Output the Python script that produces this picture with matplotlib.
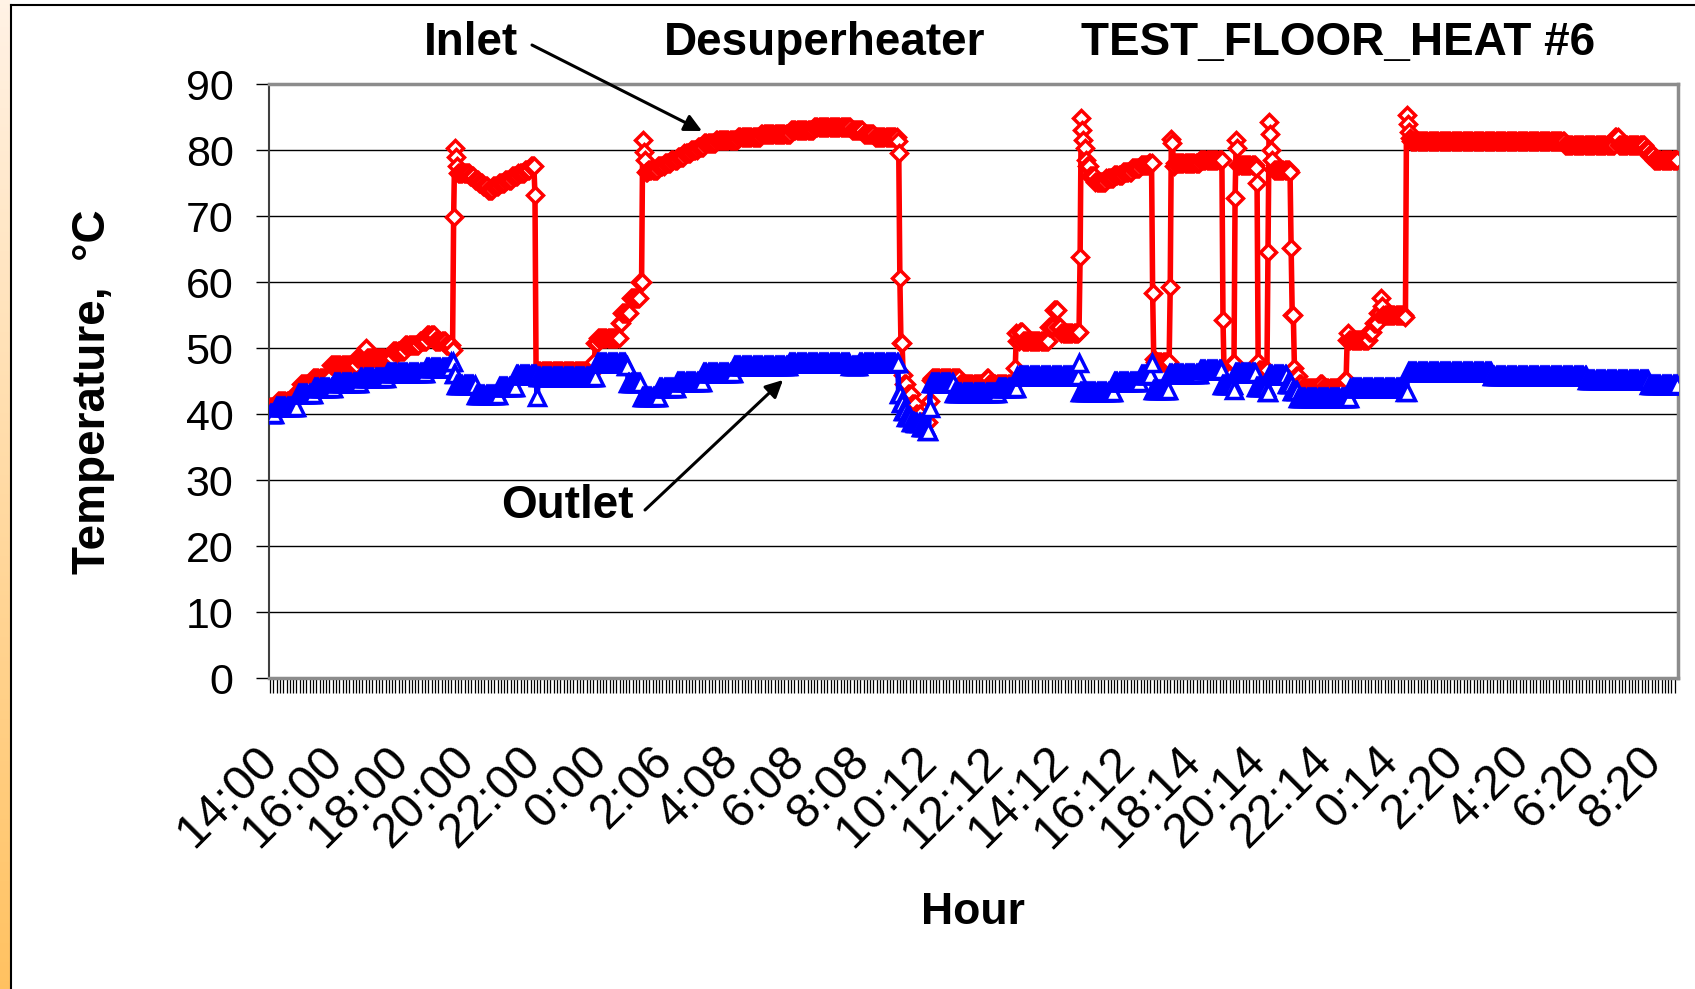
import numpy as np
import matplotlib
matplotlib.use("Agg")
import matplotlib.pyplot as plt

plt.rcParams['font.family'] = ['Liberation Sans', 'DejaVu Sans']

W, H = 1695, 989

# one reading every 2 minutes, label every 60 readings
n_samples = 1281
hour_labels = ['14:00', '16:00', '18:00', '20:00', '22:00', '0:00', '2:06', '4:08',
               '6:08', '8:08', '10:12', '12:12', '14:12', '16:12', '18:14', '20:14',
               '22:14', '0:14', '2:20', '4:20', '6:20', '8:20']
label_every = 60

# inlet temperature: sample index where a reading starts, and the reading (C)
inlet_start = [0, 7, 23, 28, 39, 55, 79, 87, 88, 112, 123, 136, 143, 150, 160, 166,
               167, 168, 169, 170, 171, 182, 186, 190, 194, 198, 203, 208, 214, 220,
               226, 232, 237, 241, 242, 295, 296, 298, 318, 320, 328, 337, 339, 340,
               341, 342, 344, 353, 359, 365, 371, 377, 383, 389, 395, 406, 426, 447,
               474, 495, 529, 540, 550, 571, 572, 573, 574, 576, 577, 580, 584, 588,
               592, 600, 601, 602, 628, 652, 654, 678, 679, 680, 682, 685, 709, 713,
               717, 720, 736, 737, 738, 739, 740, 741, 742, 743, 746, 751, 761, 768,
               776, 784, 792, 800, 803, 804, 805, 819, 820, 821, 822, 823, 846, 867,
               868, 876, 878, 879, 880, 881, 897, 898, 899, 900, 908, 909, 910, 911,
               912, 913, 928, 929, 930, 932, 933, 936, 939, 955, 958, 978, 980, 981,
               982, 1000, 1004, 1008, 1011, 1012, 1013, 1033, 1034, 1035, 1036, 1037,
               1038, 1178, 1224, 1227, 1251, 1255, 1259]
inlet_temp = [41.0, 42.0, 43.0, 44.5, 45.5, 47.5, 48.5, 50.0, 48.5, 49.5, 50.5, 51.0,
              52.0, 51.0, 50.5, 49.7, 69.9, 80.3, 79.0, 77.5, 76.5, 76.0, 75.5, 75.0,
              74.5, 74.0, 74.5, 75.0, 75.5, 76.0, 76.5, 77.0, 77.5, 73.2, 46.5, 47.9,
              50.7, 51.5, 53.8, 55.3, 57.6, 60.0, 81.5, 79.7, 78.5, 76.7, 77.0, 77.5,
              78.0, 78.5, 79.0, 79.5, 80.0, 80.5, 81.0, 81.5, 82.0, 82.5, 83.0, 83.5,
              83.0, 82.5, 82.0, 81.3, 79.5, 60.6, 50.7, 45.9, 44.5, 43.0, 41.5, 40.0,
              38.8, 41.9, 45.1, 45.5, 44.5, 45.5, 44.5, 47.0, 52.3, 51.0, 52.5, 51.0,
              53.2, 55.8, 53.2, 52.3, 52.5, 63.8, 84.8, 83.0, 81.5, 80.3, 78.5, 77.5,
              76.0, 75.2, 75.7, 76.2, 76.7, 77.2, 77.7, 78.0, 58.3, 48.4, 47.9, 59.3,
              81.6, 81.1, 77.5, 78.0, 78.5, 54.2, 46.2, 47.7, 72.7, 81.5, 80.3, 77.7,
              77.3, 75.0, 47.9, 46.7, 64.6, 84.3, 82.5, 80.0, 78.5, 77.0, 76.7, 65.1,
              55.0, 47.0, 45.7, 44.5, 43.9, 44.5, 43.9, 45.2, 51.2, 52.3, 51.2, 52.5,
              53.8, 55.3, 57.6, 56.3, 55.0, 54.7, 85.3, 84.0, 82.8, 81.8, 81.3, 80.8,
              82.0, 80.8, 80.0, 79.2, 78.5]

# outlet temperature
outlet_start = [0, 5, 25, 40, 58, 82, 106, 142, 165, 167, 169, 187, 208, 224, 243, 244,
                297, 324, 326, 338, 354, 370, 394, 422, 472, 528, 536, 572, 574, 576,
                579, 583, 587, 592, 598, 600, 601, 622, 662, 680, 736, 737, 768, 792,
                802, 803, 818, 846, 866, 877, 878, 897, 907, 909, 925, 930, 935, 983,
                1033, 1035, 1112, 1198, 1255]
outlet_temp = [40.0, 41.0, 43.0, 44.0, 44.7, 45.4, 46.2, 47.0, 47.9, 46.0, 44.4, 42.9,
               44.1, 45.9, 42.6, 45.6, 47.7, 47.2, 44.7, 42.6, 43.9, 44.9, 46.2, 47.2,
               47.8, 47.3, 47.8, 43.1, 41.6, 40.5, 39.6, 38.8, 38.6, 38.1, 37.4, 40.9,
               44.7, 43.2, 43.9, 45.7, 47.7, 43.4, 44.9, 45.9, 47.7, 43.6, 46.1, 46.7,
               44.4, 43.6, 46.2, 44.1, 43.3, 45.9, 44.5, 43.5, 42.4, 43.9, 43.4, 46.4,
               45.7, 45.1, 44.4]


def expand(starts, temps):
    runs = np.diff(np.append(starts, n_samples))
    return np.repeat(temps, runs)


inlet = expand(inlet_start, inlet_temp)
outlet = expand(outlet_start, outlet_temp)
x = np.arange(n_samples)


def fx(px):
    return px / W


def fy(py):
    return 1 - py / H


fig = plt.figure(figsize=(W / 100, H / 100), dpi=100)

# orange strip on the left edge
strip = fig.add_axes([0, 0, fx(10), 1])
grad = np.linspace(0, 1, 256).reshape(-1, 1)
top_c = np.array([1.0, 0.95, 0.90])
bot_c = np.array([1.0, 0.76, 0.38])
img = top_c + (bot_c - top_c) * grad[:, :, None]
strip.imshow(img, aspect='auto', extent=[0, 1, 0, 1], origin='upper')
strip.axis('off')

# frame of the picture
fig.add_artist(plt.Line2D([fx(11), fx(11)], [0, fy(5)], color='black', lw=1.5,
                          transform=fig.transFigure))
fig.add_artist(plt.Line2D([fx(11), 1], [fy(5), fy(5)], color='black', lw=1.5,
                          transform=fig.transFigure))

ax = fig.add_axes([fx(269), fy(678), fx(1678 - 269), (678 - 84) / H])

ax.plot(x, inlet, color='#FF0000', lw=4, marker='D', ms=8, mfc='white',
        mec='#FF0000', mew=2.5, zorder=3)
ax.plot(x, outlet, color='#0000FF', lw=4, marker='^', ms=11, mfc='white',
        mec='#0000FF', mew=2.5, zorder=4)

ax.set_xlim(-1, n_samples)
ax.set_ylim(0, 90)
ax.set_yticks(np.arange(0, 91, 10))
ax.yaxis.grid(True, color='black', lw=1)
ax.set_axisbelow(True)

ticks = np.arange(0, n_samples, label_every)[:len(hour_labels)]
ax.set_xticks(ticks)
ax.set_xticklabels(hour_labels, rotation=45, ha='right', va='center',
                   rotation_mode='anchor')
ax.set_xticks(np.arange(0, n_samples, 3), minor=True)
ax.tick_params(axis='x', which='both', direction='out', length=11, width=0.9,
               color='black', pad=44, labelsize=35)
ax.tick_params(axis='y', direction='out', length=9.5, width=1, color='black',
               pad=16, labelsize=31)

for side in ['top', 'right', 'bottom']:
    ax.spines[side].set_color('#8C8C8C')
    ax.spines[side].set_linewidth(2.5)
ax.spines['left'].set_color('#404040')
ax.spines['left'].set_linewidth(1.5)

# titles and labels
fig.text(fx(471), fy(55), 'Inlet', ha='center', va='baseline', fontsize=33,
         fontweight='bold')
fig.text(fx(825), fy(55), 'Desuperheater', ha='center', va='baseline', fontsize=33,
         fontweight='bold')
fig.text(fx(1338), fy(55), 'TEST_FLOOR_HEAT #6', ha='center', va='baseline',
         fontsize=33, fontweight='bold')
fig.text(fx(567), fy(518), 'Outlet', ha='center', va='baseline', fontsize=33,
         fontweight='bold')
fig.text(fx(973), fy(924), 'Hour', ha='center', va='baseline', fontsize=32,
         fontweight='bold')
fig.text(fx(93), fy(392), 'Temperature,  °C', ha='center', va='center',
         rotation=90, fontsize=33, fontweight='bold')

arrow = dict(arrowstyle='-|>', color='black', lw=2.2, mutation_scale=26,
             shrinkA=0, shrinkB=0)
ax.annotate('', xy=(fx(702), fy(131)), xytext=(fx(532), fy(45)),
            xycoords='figure fraction', textcoords='figure fraction',
            arrowprops=arrow)
ax.annotate('', xy=(fx(783), fy(380)), xytext=(fx(645), fy(510)),
            xycoords='figure fraction', textcoords='figure fraction',
            arrowprops=arrow)

fig.savefig('out.png', dpi=100, facecolor='white')
